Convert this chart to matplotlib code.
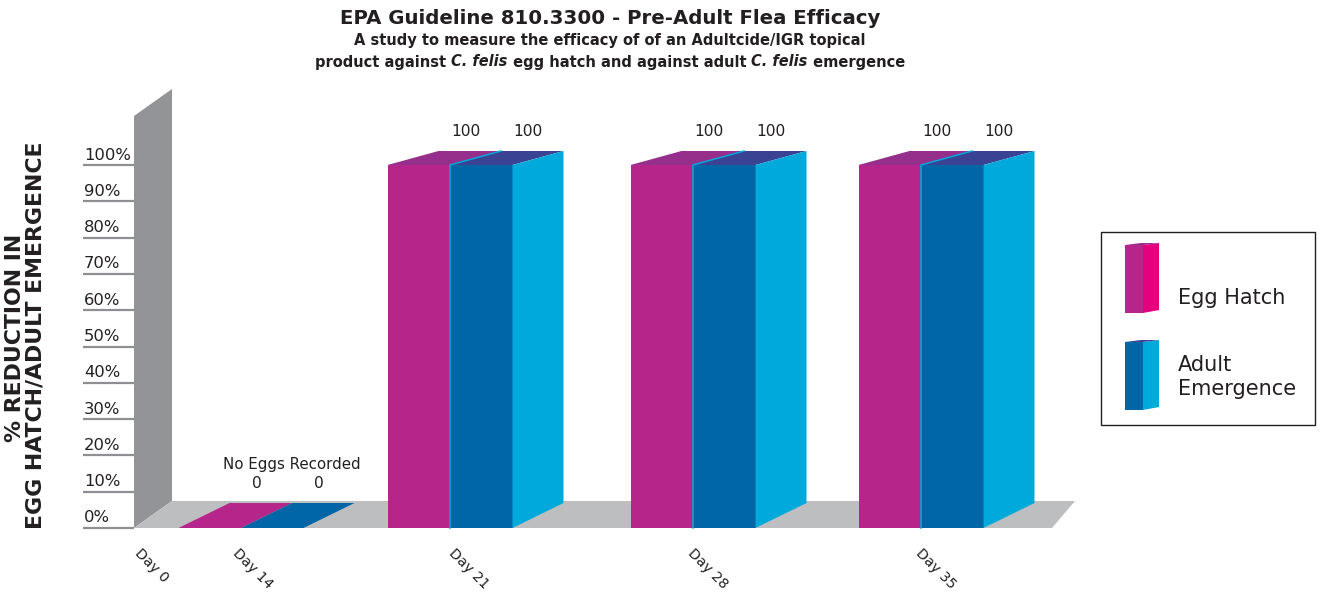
import matplotlib
matplotlib.use("Agg")
import matplotlib.pyplot as plt
from matplotlib.patches import Polygon, Rectangle

# ---- data -------------------------------------------------------------
days = ["Day 0", "Day 14", "Day 21", "Day 28", "Day 35"]
egg_hatch = [None, 0, 100, 100, 100]          # % reduction in egg hatch
adult_emergence = [None, 0, 100, 100, 100]    # % reduction in adult emergence
y_ticks = [0, 10, 20, 30, 40, 50, 60, 70, 80, 90, 100]
series_names = ["Egg Hatch", "Adult\nEmergence"]
no_data_note = {1: "No Eggs Recorded"}

# ---- layout / style ---------------------------------------------------
W, H = 1321, 593
BASE = 528            # pixel row of the 0 % floor edge
PX = 3.63             # pixels per percentage point
group_x = [140, 241, 450, 693, 921]   # pixel centre of each day group
label_dx = [2, -1, 6, 2, 2]
BAR_W = 62.5
DX = 51               # horizontal depth of the 3-D extrusion (px)
DY0, DY1 = 25, 14     # vertical depth at 0 % and at 100 % (px)

MAG_FRONT = "#b5258a"
MAG_TOP = "#952f8b"
MAG_SIDE = "#e5007e"
BLU_FRONT = "#0066a6"
BLU_TOP = "#3a4293"
BLU_SIDE = "#00a9db"
WALL = "#939498"
FLOOR = "#bdbec0"
TICK = "#8e8f93"
INK = "#231f20"

fig = plt.figure(figsize=(W / 100, H / 100), dpi=100)

# data axes: x in pixels, y in percent
ax = fig.add_axes([0, 0, 1, 1])
ax.set_xlim(0, W)
ax.set_ylim((BASE - H) / PX, BASE / PX)
ax.axis("off")

# overlay in plain pixel coordinates for titles and legend
deco = fig.add_axes([0, 0, 1, 1], zorder=5)
deco.set_xlim(0, W)
deco.set_ylim(H, 0)
deco.axis("off")
deco.patch.set_alpha(0)


def v(px):
    """pixel distance -> percent units"""
    return px / PX


def depth_y(val):
    return v(DY0 + (DY1 - DY0) * val / 100.0)


# back wall and floor
ax.add_patch(Polygon([(134, 0), (134, v(BASE - 116)), (172, v(BASE - 89)), (172, v(27))],
                     closed=True, fc=WALL, ec="none", zorder=1))
ax.add_patch(Polygon([(134, 0), (1052, 0), (1075, v(27)), (172, v(27))],
                     closed=True, fc=FLOOR, ec="none", zorder=1))

# y ticks
for t in y_ticks:
    ax.plot([83, 134], [t, t], color=TICK, lw=1.6, solid_capstyle="butt", zorder=2)
    ax.text(84, t + v(2.5), f"{t}%", ha="left", va="bottom", fontsize=11.8,
            color=INK, family="DejaVu Sans", zorder=3)


def draw_bar(xl, val, front, top, side=None):
    xr = xl + BAR_W
    dyt = depth_y(val)
    if val == 0:
        ax.add_patch(Polygon([(xl, 0), (xr, 0), (xr + DX, dyt), (xl + DX, dyt)],
                             closed=True, fc=front, ec="none", zorder=3))
        return
    ax.add_patch(Rectangle((xl, 0), BAR_W, val, fc=front, ec="none", zorder=3))
    ax.add_patch(Polygon([(xl, val), (xr, val), (xr + DX, val + dyt), (xl + DX, val + dyt)],
                         closed=True, fc=top, ec="none", zorder=3))
    if side is not None:
        ax.add_patch(Polygon([(xr, 0), (xr + DX, v(DY0)), (xr + DX, val + dyt), (xr, val)],
                             closed=True, fc=side, ec="none", zorder=3))


for i, day in enumerate(days):
    cx = group_x[i]
    ax.text(cx + label_dx[i], v(BASE - 546), day, rotation=-45, rotation_mode="anchor",
            ha="left", va="top", fontsize=10.2, color=INK, family="DejaVu Sans")
    e, a = egg_hatch[i], adult_emergence[i]
    if e is None:
        continue
    draw_bar(cx - BAR_W, e, MAG_FRONT, MAG_TOP)
    draw_bar(cx, a, BLU_FRONT, BLU_TOP, BLU_SIDE)
    if a > 0:
        # thin highlight where the two bars meet
        ax.plot([cx, cx, cx + DX], [0, a, a + depth_y(a)], color=BLU_SIDE, lw=1.1, zorder=4)
    for j, val in enumerate((e, a)):
        xc = cx - BAR_W / 2 + j * BAR_W + DX - 4
        yl = val + depth_y(val) + v(20)
        ax.text(xc, yl, f"{val:g}", ha="center", va="center", fontsize=11.2,
                color=INK, family="DejaVu Sans", zorder=4)
    if i in no_data_note:
        ax.text(cx + DX, val + depth_y(val) + v(39), no_data_note[i], ha="center",
                va="center", fontsize=10.8, color=INK, family="DejaVu Sans", zorder=4)

# ---- titles ---------------------------------------------------------------
deco.text(610, 19, "EPA Guideline 810.3300 - Pre-Adult Flea Efficacy", ha="center",
          va="center", fontsize=14.2, fontweight="bold", color=INK, family="DejaVu Sans")
deco.text(610, 45.5, "A study to measure the efficacy of of an Adultcide/IGR topical",
          ha="center", va="baseline", fontsize=10.5, fontweight="bold", color=INK,
          family="DejaVu Sans")

pieces = [("product against ", "normal"), ("C. felis", "italic"),
          (" egg hatch and against adult ", "normal"), ("C. felis", "italic"),
          (" emergence", "normal")]
renderer = fig.canvas.get_renderer()
arts = []
for txt, style in pieces:
    t = deco.text(0, 66.5, txt.replace(" ", "\u00a0"), ha="left", va="baseline",
                  fontsize=10.5, fontweight="bold", fontstyle=style, color=INK,
                  family="DejaVu Sans")
    arts.append(t)
widths = [t.get_window_extent(renderer).width for t in arts]
x0 = 610 - sum(widths) / 2
for t, w in zip(arts, widths):
    t.set_x(x0)
    x0 += w

# y-axis title
deco.text(15, 338, "% REDUCTION IN", rotation=90, ha="center", va="center",
          fontsize=15.8, fontweight="bold", color=INK, family="DejaVu Sans")
deco.text(36, 335, "EGG HATCH/ADULT EMERGENCE", rotation=90, ha="center", va="center",
          fontsize=15.8, fontweight="bold", color=INK, family="DejaVu Sans")

# ---- legend ---------------------------------------------------------------
deco.add_patch(Rectangle((1101, 232), 214, 193, fc="white", ec=INK, lw=1.0))
for (y_top, front, top, side), name in zip(
        [(245, MAG_FRONT, MAG_TOP, MAG_SIDE), (342, BLU_FRONT, BLU_TOP, BLU_SIDE)],
        series_names):
    deco.add_patch(Rectangle((1125, y_top), 18, 68, fc=front, ec="none"))
    deco.add_patch(Polygon([(1143, y_top), (1159, y_top - 2), (1159, y_top + 65),
                            (1143, y_top + 68)], closed=True, fc=side, ec="none"))
    deco.add_patch(Polygon([(1125, y_top), (1143, y_top), (1159, y_top - 2),
                            (1141, y_top - 2)], closed=True, fc=top, ec="none"))
    deco.text(1178, y_top + 53 if "\n" not in name else y_top + 35, name, ha="left",
              va="center", fontsize=15, color=INK, family="DejaVu Sans",
              linespacing=1.3)

fig.savefig("out.png", dpi=100)
